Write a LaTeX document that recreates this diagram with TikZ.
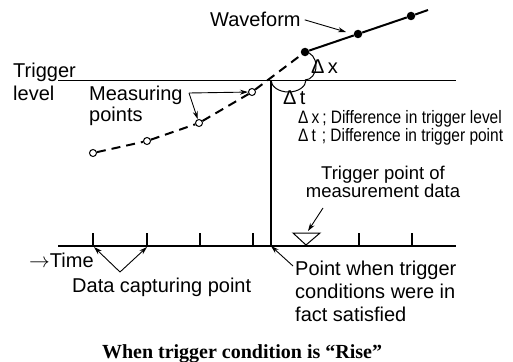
\documentclass[tikz,border=0pt]{standalone}
\usepackage{fontspec}
\setmainfont{Liberation Sans}
\newfontfamily\narrowsans[FakeStretch=0.86]{Liberation Sans}
\newfontfamily\capserif{Liberation Serif}
\usetikzlibrary{arrows.meta}

\begin{document}
\begin{tikzpicture}[x=1pt,y=-1pt,
  lbl/.style={inner sep=0pt,font=\fontsize{20}{23}\selectfont,align=left},
  opendot/.style={circle,draw,fill=white,line width=1pt,inner sep=0pt,minimum size=7pt},
  fulldot/.style={circle,fill,inner sep=0pt,minimum size=8.5pt},
  link/.style={-{Stealth[length=8pt,width=5pt]},line width=0.9pt},
  wave/.style={line width=2pt},
  tickmark/.style={line width=1.1pt}]
\useasboundingbox (0,0) rectangle (513,361);
% level and time axis
\draw[line width=0.9pt] (58,80) -- (456,80);
\draw[line width=1.3pt] (58,246) -- (456,246);
\foreach \t in {93,147,200,253,359,412} \draw[tickmark] (\t,246) -- (\t,233);
% samples
\node[opendot] (m1) at (93,153) {};
\node[opendot] (m2) at (147,141) {};
\node[opendot] (m3) at (199,123) {};
\node[opendot] (m4) at (252,92) {};
\node[fulldot] (w1) at (305,52) {};
\node[fulldot] (w2) at (358,34) {};
\node[fulldot] (w3) at (411,16) {};
\coordinate (wend) at (428,10);
\coordinate (x0) at (271,80);
\coordinate (x0b) at (271,246);
\draw[wave,dash pattern=on 9pt off 6pt] (m1) -- (m2) -- (m3) -- (m4) -- (w1);
\draw[wave] (w1) -- (w2) -- (w3) -- (wend);
\draw[line width=1.1pt] (x0) -- (x0b);
\draw[line width=1pt] (w1.center) arc[start angle=90,end angle=-90,x radius=11pt,y radius=14pt];
\draw[line width=1pt] (x0) arc[start angle=180,end angle=360,x radius=17.5pt,y radius=12pt];
% trigger point marker
\draw[line width=1pt] (293,233) -- (320,233) -- (306,245) -- cycle;
% labels
\node[lbl,anchor=north west] (level) at (13,63) {Trigger\\level};
\node[lbl,anchor=north west,font=\fontsize{20}{21}\selectfont] (meas) at (89,86) {Measuring\\points};
\node[lbl,anchor=base west] (wave) at (210,27) {Waveform};
\node[lbl,anchor=base west] (dx) at (311,73) {Δ\,x};
\node[lbl,anchor=base west] (dt) at (283,104) {Δ\,t};
\node[lbl,anchor=north west,font=\narrowsans\fontsize{18}{13.5}\selectfont] (legend) at (298,110)
  {Δ\,x\,; Difference in trigger level\\Δ\,t\,\,; Difference in trigger point};
\node[lbl,anchor=north,align=center,font=\fontsize{18.5}{18}\selectfont] (tplabel) at (383,166)
  {Trigger point of\\measurement data};
\node[lbl,anchor=north west] (satisfied) at (295,261)
  {Point when trigger\\conditions were in\\fact satisfied};
\node[lbl,anchor=base west] (time) at (29,267) {$\rightarrow$Time};
\node[lbl,anchor=base west] (capture) at (72,292) {Data capturing point};
\node[inner sep=0pt,anchor=base,font=\capserif\bfseries\fontsize{20}{23}\selectfont] (caption) at (242,358)
  {When trigger condition is “Rise”};
% pointers
\coordinate (wavetip) at (346,32);
\coordinate (mfork) at (189,93);
\coordinate (dfork) at (120,272);
\coordinate (d1) at (94,247);
\coordinate (d2) at (147,247);
\coordinate (pstart) at (293,266);
\coordinate (tpstart) at (323,208);
\coordinate (tpend) at (308,231);
\draw[link] ([xshift=4pt]wave.east) -- (wavetip);
\draw[link] (mfork) -- (m4);
\draw[link] (mfork) -- (m3);
\draw[link] (dfork) -- (d1);
\draw[link] (dfork) -- (d2);
\draw[link] (pstart) -- (x0b);
\draw[link] (tpstart) -- (tpend);
\end{tikzpicture}
\end{document}
